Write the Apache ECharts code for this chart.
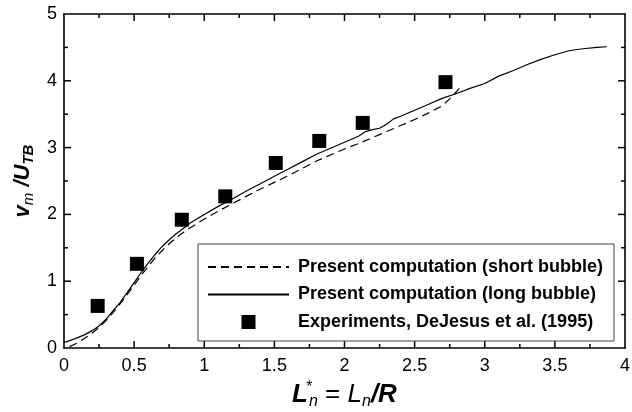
<!DOCTYPE html>
<html><head><meta charset="utf-8">
<script src="https://cdn.jsdelivr.net/npm/echarts@6/dist/echarts.min.js"></script>
<style>html,body{margin:0;padding:0;background:#fff}#c{width:632px;height:412px;background:#fff}</style>
</head><body><div id="c"></div>
<script>
// Present computation (long bubble)
const longX = [0, 0.08, 0.15, 0.2, 0.25, 0.3, 0.35, 0.4, 0.45, 0.5, 0.55, 0.6, 0.65, 0.7, 0.75, 0.8, 0.85, 0.9, 1.0, 1.1, 1.2, 1.3, 1.4, 1.5, 1.6, 1.7, 1.8, 1.9, 2.0, 2.1, 2.15, 2.2, 2.25, 2.3, 2.35, 2.4, 2.5, 2.6, 2.7, 2.8, 2.9, 3.0, 3.1, 3.2, 3.3, 3.4, 3.5, 3.6, 3.7, 3.8, 3.87];
const longY = [0.08, 0.14, 0.2, 0.26, 0.33, 0.43, 0.56, 0.68, 0.83, 0.98, 1.13, 1.27, 1.4, 1.52, 1.62, 1.71, 1.79, 1.87, 2.0, 2.12, 2.23, 2.35, 2.46, 2.57, 2.68, 2.79, 2.9, 2.99, 3.08, 3.17, 3.24, 3.27, 3.29, 3.35, 3.43, 3.47, 3.56, 3.65, 3.74, 3.81, 3.89, 3.96, 4.07, 4.15, 4.24, 4.32, 4.39, 4.45, 4.48, 4.5, 4.51];
// Present computation (short bubble)
const shortX = [0.04, 0.1, 0.15, 0.2, 0.25, 0.3, 0.35, 0.4, 0.45, 0.5, 0.55, 0.6, 0.65, 0.7, 0.75, 0.8, 0.85, 0.9, 1.0, 1.1, 1.2, 1.3, 1.4, 1.5, 1.6, 1.7, 1.8, 1.9, 2.0, 2.1, 2.2, 2.3, 2.4, 2.5, 2.6, 2.7, 2.75, 2.8, 2.84];
const shortY = [0.02, 0.08, 0.15, 0.22, 0.31, 0.41, 0.53, 0.66, 0.8, 0.94, 1.09, 1.22, 1.35, 1.46, 1.56, 1.65, 1.73, 1.8, 1.93, 2.05, 2.16, 2.27, 2.38, 2.48, 2.58, 2.69, 2.8, 2.89, 2.98, 3.06, 3.15, 3.24, 3.33, 3.42, 3.52, 3.63, 3.73, 3.84, 3.94];
// Experiments, DeJesus et al. (1995)
const expX = [0.24, 0.52, 0.84, 1.15, 1.51, 1.82, 2.13, 2.72];
const expY = [0.63, 1.26, 1.92, 2.27, 2.77, 3.10, 3.37, 3.98];

// Tick positions (major ticks carry labels)
const xMajorTicks = [0.5, 1, 1.5, 2, 2.5, 3, 3.5];
const xMinorTicks = [0.25, 0.75, 1.25, 1.75, 2.25, 2.75, 3.25, 3.75];
const yMajorTicks = [1, 2, 3, 4];
const yMinorTicks = [0.5, 1.5, 2.5, 3.5, 4.5];

const seriesNames = ['Present computation (short bubble)', 'Present computation (long bubble)', 'Experiments, DeJesus et al. (1995)'];

const zip = (xs, ys) => xs.map((x, i) => [x, ys[i]]);
const FONT = 'Liberation Sans, Arial, sans-serif';
const X_MIN = 0, X_MAX = 4, Y_MIN = 0, Y_MAX = 5;

// tick data: [value, kind (0 = x tick, 1 = y tick), major (1/0)]
const tickData = []
  .concat(xMajorTicks.map(v => [v, 0, 1]))
  .concat(xMinorTicks.map(v => [v, 0, 0]))
  .concat(yMajorTicks.map(v => [v, 1, 1]))
  .concat(yMinorTicks.map(v => [v, 1, 0]));

function renderTick(params, api) {
  const v = api.value(0), kind = api.value(1), major = api.value(2);
  const len = major ? 7 : 4;
  const style = { stroke: '#000', lineWidth: 1.5 };
  if (kind === 0) {
    const b = api.coord([v, Y_MIN]);
    const t = api.coord([v, Y_MAX]);
    return { type: 'group', children: [
      { type: 'line', shape: { x1: b[0], y1: b[1], x2: b[0], y2: b[1] - len }, style: style },
      { type: 'line', shape: { x1: t[0], y1: t[1], x2: t[0], y2: t[1] + len }, style: style }
    ] };
  }
  const l = api.coord([X_MIN, v]);
  const r = api.coord([X_MAX, v]);
  return { type: 'group', children: [
    { type: 'line', shape: { x1: l[0], y1: l[1], x2: l[0] + len, y2: l[1] }, style: style },
    { type: 'line', shape: { x1: r[0], y1: r[1], x2: r[0] - len, y2: r[1] }, style: style }
  ] };
}

const AXLINE = { show: true, lineStyle: { color: '#000', width: 1.6 } };

const chart = echarts.init(document.getElementById('c'), null, { renderer: 'canvas' });
chart.setOption({
  animation: false,
  grid: { left: 64, right: 7, top: 14, bottom: 64, outerBoundsMode: 'none' },
  xAxis: [{
    type: 'value', position: 'bottom', min: X_MIN, max: X_MAX, interval: 0.5,
    splitLine: { show: false },
    axisLine: AXLINE,
    axisTick: { show: false },
    axisLabel: { color: '#000', fontSize: 18, fontFamily: FONT, margin: 9 },
    name: '{b|L}{sup|*}{sub|n}{r| = }{i|L}{sub|n}{b|/R}',
    nameLocation: 'middle', nameGap: 31,
    nameTextStyle: {
      rich: {
        b: { fontSize: 26, fontWeight: 'bold', fontStyle: 'italic', fontFamily: FONT, color: '#000', lineHeight: 30 },
        i: { fontSize: 26, fontStyle: 'italic', fontFamily: FONT, color: '#000', lineHeight: 30 },
        r: { fontSize: 26, fontFamily: FONT, color: '#000', lineHeight: 30 },
        sub: { fontSize: 16, fontStyle: 'italic', fontFamily: FONT, color: '#000', lineHeight: 14, verticalAlign: 'bottom' },
        sup: { fontSize: 16, fontStyle: 'italic', fontFamily: FONT, color: '#000', lineHeight: 14, verticalAlign: 'top', width: 1 }
      }
    }
  }, {
    type: 'value', position: 'top', min: X_MIN, max: X_MAX, interval: 0.5,
    splitLine: { show: false },
    axisLine: { show: true, onZero: false, lineStyle: { color: '#000', width: 1.6 } },
    axisTick: { show: false },
    axisLabel: { show: false }
  }],
  yAxis: [{
    type: 'value', position: 'left', min: Y_MIN, max: Y_MAX, interval: 1,
    splitLine: { show: false },
    axisLine: AXLINE,
    axisTick: { show: false },
    axisLabel: { color: '#000', fontSize: 18, fontFamily: FONT, margin: 7 },
    name: '{b|v}{sub|m}{b| /U}{subb|TB}',
    nameLocation: 'middle', nameGap: 24, nameRotate: 90,
    nameTextStyle: {
      rich: {
        b: { fontSize: 22, fontWeight: 'bold', fontStyle: 'italic', fontFamily: FONT, color: '#000', lineHeight: 26 },
        sub: { fontSize: 15, fontStyle: 'italic', fontFamily: FONT, color: '#000', lineHeight: 11, verticalAlign: 'bottom' },
        subb: { fontSize: 15, fontWeight: 'bold', fontStyle: 'italic', fontFamily: FONT, color: '#000', lineHeight: 11, verticalAlign: 'bottom' }
      }
    }
  }, {
    type: 'value', position: 'right', min: Y_MIN, max: Y_MAX, interval: 1,
    splitLine: { show: false },
    axisLine: { show: true, onZero: false, lineStyle: { color: '#000', width: 1.6 } },
    axisTick: { show: false },
    axisLabel: { show: false }
  }],
  legend: {
    orient: 'vertical', left: 198, top: 244,
    padding: [14, 11, 10, 9], itemGap: 9.5,
    itemWidth: 81, itemHeight: 14,
    borderColor: '#444', borderWidth: 1, backgroundColor: '#fff',
    textStyle: { color: '#000', fontSize: 18, fontWeight: 'bold', fontFamily: FONT, padding: [0, 0, 0, 4] },
    data: [
      { name: seriesNames[0], itemStyle: { opacity: 0 } },
      { name: seriesNames[1], itemStyle: { opacity: 0 } },
      { name: seriesNames[2], icon: 'path://M0,0L10,0L10,10L0,10Z' }
    ],
    selectedMode: false
  },
  series: [
    {
      name: seriesNames[0], type: 'line',
      data: zip(shortX, shortY), symbol: 'none',
      lineStyle: { color: '#000', width: 1.2, type: [8, 5] }, itemStyle: { color: '#000' }
    },
    {
      name: seriesNames[1], type: 'line',
      data: zip(longX, longY), symbol: 'none',
      lineStyle: { color: '#000', width: 1.2, type: 'solid' }, itemStyle: { color: '#000' }
    },
    {
      name: seriesNames[2], type: 'scatter',
      data: zip(expX, expY), symbol: 'rect', symbolSize: 14,
      itemStyle: { color: '#000', opacity: 1 }
    },
    {
      name: 'ticks', type: 'custom', silent: true, clip: false,
      renderItem: renderTick, data: tickData, z: 1
    }
  ]
});
</script>
</body></html>
